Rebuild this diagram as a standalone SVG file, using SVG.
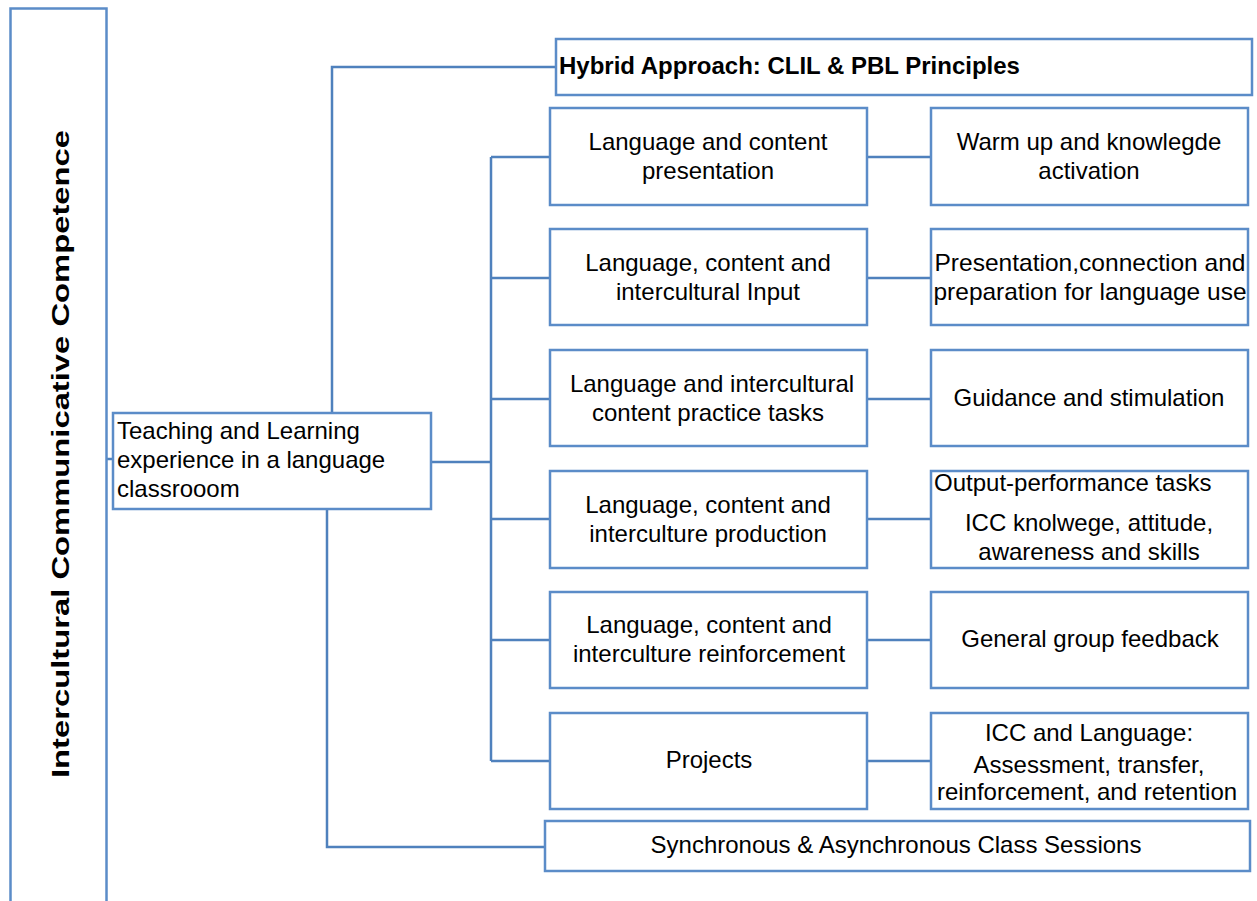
<svg xmlns="http://www.w3.org/2000/svg" width="1257" height="901" viewBox="0 0 1257 901">
<style>
.box{fill:#fff;stroke:#5b8cc8;stroke-width:2.5}
.con{fill:none;stroke:#4f81bd;stroke-width:2.5}
.t{font-family:"Liberation Sans",Arial,sans-serif;font-size:24px;fill:#000}
.c{text-anchor:middle}
.b{font-weight:bold}
</style>
<rect width="1257" height="901" fill="#fff"/>
<g id="connectors">
<path class="con" d="M106,459 H113"/>
<path class="con" d="M332,413 V67 H556"/>
<path class="con" d="M327,509 V847 H545"/>
<path class="con" d="M431,462 H491"/>
<path class="con" d="M491,157 V761"/>
<path class="con" d="M491,157 H550 M491,278 H550 M491,399 H550 M491,519 H550 M491,640 H550 M491,761 H550"/>
<path class="con" d="M867,157 H931 M867,278 H931 M867,399 H931 M867,519 H931 M867,640 H931 M867,761 H931"/>
</g>
<g id="icc">
<rect class="box" x="10.5" y="8.5" width="96" height="905"/>
<text class="t b c" transform="translate(69,454) rotate(-90)" font-size="30" textLength="648" lengthAdjust="spacingAndGlyphs">Intercultural Communicative Competence</text>
</g>
<g id="teaching">
<rect class="box" x="113" y="413" width="318" height="96"/>
<text class="t" x="117" y="439">Teaching and Learning</text>
<text class="t" x="117" y="468">experience in a language</text>
<text class="t" x="117" y="497">classrooom</text>
</g>
<g id="hybrid">
<rect class="box" x="556" y="39" width="696" height="56"/>
<text class="t b" x="559" y="74" font-size="24.5">Hybrid Approach: CLIL &amp; PBL Principles</text>
</g>
<g id="sync">
<rect class="box" x="545" y="821" width="705" height="50"/>
<text class="t c" x="896" y="853">Synchronous &amp; Asynchronous Class Sessions</text>
</g>
<g id="m1"><rect class="box" x="550" y="108" width="317" height="97"/>
<text class="t c" x="708" y="150">Language and content</text><text class="t c" x="708" y="179">presentation</text></g>
<g id="r1"><rect class="box" x="931" y="108" width="317" height="97"/>
<text class="t c" x="1089" y="150">Warm up and knowlegde</text><text class="t c" x="1089" y="179">activation</text></g>
<g id="m2"><rect class="box" x="550" y="229" width="317" height="96"/>
<text class="t c" x="708" y="271">Language, content and</text><text class="t c" x="708" y="300">intercultural Input</text></g>
<g id="r2"><rect class="box" x="931" y="229" width="317" height="96"/>
<text class="t c" x="1090" y="271" textLength="311" lengthAdjust="spacingAndGlyphs">Presentation,connection and</text><text class="t c" x="1090" y="300" textLength="313" lengthAdjust="spacingAndGlyphs">preparation for language use</text></g>
<g id="m3"><rect class="box" x="550" y="350" width="317" height="96"/>
<text class="t c" x="712" y="392">Language and intercultural</text><text class="t c" x="708" y="421">content practice tasks</text></g>
<g id="r3"><rect class="box" x="931" y="350" width="317" height="96"/>
<text class="t c" x="1089" y="406">Guidance and stimulation</text></g>
<g id="m4"><rect class="box" x="550" y="471" width="317" height="97"/>
<text class="t c" x="708" y="513">Language, content and</text><text class="t c" x="708" y="542">interculture production</text></g>
<g id="r4"><rect class="box" x="931" y="471" width="317" height="97"/>
<text class="t" x="934" y="491">Output-performance tasks</text>
<text class="t c" x="1089" y="531">ICC knolwege, attitude,</text><text class="t c" x="1089" y="560">awareness and skills</text></g>
<g id="m5"><rect class="box" x="550" y="592" width="317" height="96"/>
<text class="t c" x="709" y="633">Language, content and</text><text class="t c" x="709" y="662">interculture reinforcement</text></g>
<g id="r5"><rect class="box" x="931" y="592" width="317" height="96"/>
<text class="t c" x="1090" y="647">General group feedback</text></g>
<g id="m6"><rect class="box" x="550" y="713" width="317" height="96"/>
<text class="t c" x="709" y="768">Projects</text></g>
<g id="r6"><rect class="box" x="931" y="713" width="317" height="96"/>
<text class="t c" x="1089" y="741">ICC and Language:</text>
<text class="t c" x="1089" y="773">Assessment, transfer,</text><text class="t c" x="1087" y="800">reinforcement, and retention</text></g>
</svg>
